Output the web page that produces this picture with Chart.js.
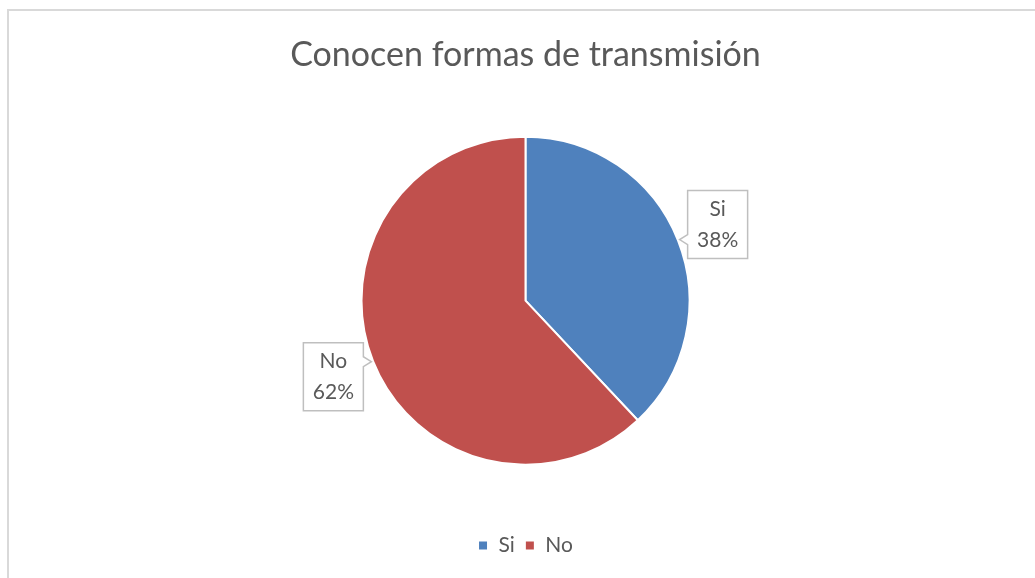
<!DOCTYPE html>
<html>
<head>
<meta charset="utf-8">
<script src="https://cdn.jsdelivr.net/npm/chart.js@4"></script>
<style>
  body { margin: 0; background: #fff; }
  #wrap { position: relative; width: 1035px; height: 578px; overflow: hidden; }
  #frame { position: absolute; left: 7px; top: 9px; width: 1100px; height: 700px; border: 2px solid #d9d9d9; box-sizing: border-box; }
  #holder { position: absolute; left: 0; top: 0; width: 1035px; height: 578px; }
</style>
</head>
<body>
<div id="wrap">
  <div id="frame"></div>
  <div id="holder"><canvas id="pie"></canvas></div>
</div>
<script>
let categories = ["Si", "No"]
let values = [38, 62]
let colors = ["#4F81BD", "#C0504D"]
let title_text = "Conocen formas de transmisión"

let font_family = "Lato, 'Open Sans', sans-serif"

// callout labels (box with a little pointer toward the pie)
let calloutPlugin = {
    id: "callouts",
    afterDatasetsDraw(chart) {
        let ctx = chart.ctx
        let meta = chart.getDatasetMeta(0)
        let total = values.reduce((a, b) => a + b, 0)
        meta.data.forEach((arc, i) => {
            let mid = (arc.startAngle + arc.endAngle) / 2
            let r = arc.outerRadius * 1.26
            let cx = arc.x + Math.cos(mid) * r
            let cy = arc.y + Math.sin(mid) * r
            let w = 60, h = 68
            let x0 = cx - w / 2, y0 = cy - h / 2
            let left = Math.cos(mid) > 0 // pointer on left side
            let py = cy + (arc.y > cy ? 15 : -15)
            ctx.save()
            ctx.beginPath()
            ctx.moveTo(x0, y0)
            ctx.lineTo(x0 + w, y0)
            if (!left) {
                ctx.lineTo(x0 + w, py - 5)
                ctx.lineTo(x0 + w + 8, py)
                ctx.lineTo(x0 + w, py + 5)
            }
            ctx.lineTo(x0 + w, y0 + h)
            ctx.lineTo(x0, y0 + h)
            if (left) {
                ctx.lineTo(x0, py + 5)
                ctx.lineTo(x0 - 8, py)
                ctx.lineTo(x0, py - 5)
            }
            ctx.closePath()
            ctx.fillStyle = "#fff"
            ctx.fill()
            ctx.strokeStyle = "#bfbfbf"
            ctx.lineWidth = 1.5
            ctx.stroke()
            ctx.fillStyle = "#595959"
            ctx.font = "21px " + font_family
            ctx.textAlign = "center"
            ctx.textBaseline = "middle"
            ctx.fillText(categories[i], cx, cy - 15)
            ctx.fillText(Math.round(values[i] / total * 100) + "%", cx, cy + 16)
            ctx.restore()
        })
    }
}

new Chart(document.getElementById("pie"), {
    type: "pie",
    data: {
        labels: categories,
        datasets: [{
            data: values,
            backgroundColor: colors,
            borderColor: "#fff",
            borderWidth: 2
        }]
    },
    options: {
        responsive: true,
        maintainAspectRatio: false,
        animation: false,
        radius: 164,
        layout: { padding: { left: 16, right: 0, top: 0, bottom: 12 } },
        plugins: {
            title: {
                display: true,
                text: title_text,
                color: "#595959",
                font: { family: font_family, size: 34, weight: "normal", lineHeight: 1.2 },
                padding: { top: 35, bottom: 0.5 }
            },
            legend: {
                position: "bottom",
                labels: {
                    color: "#595959",
                    font: { family: font_family, size: 21 },
                    boxWidth: 10,
                    boxHeight: 10,
                    padding: 10
                }
            },
            tooltip: { enabled: false }
        }
    },
    plugins: [calloutPlugin]
})
</script>
</body>
</html>
